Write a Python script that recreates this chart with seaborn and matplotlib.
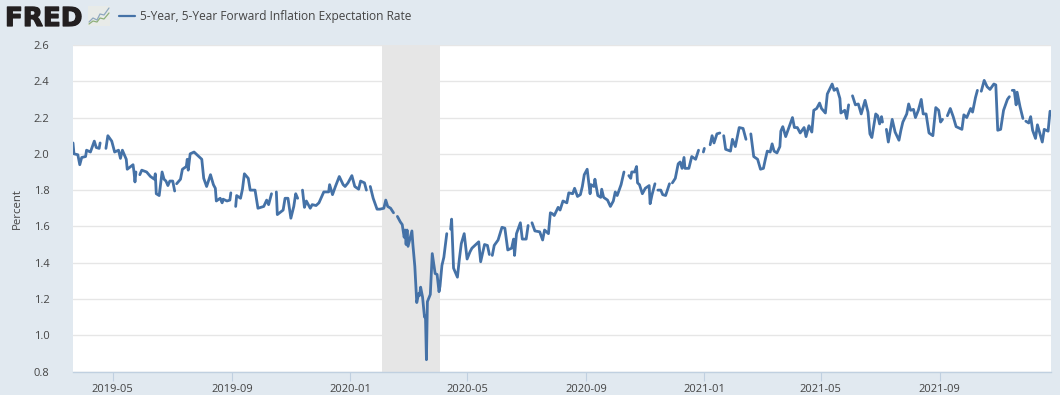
import numpy as np
import pandas as pd
import matplotlib
matplotlib.use("Agg")
import matplotlib.pyplot as plt
import matplotlib.dates as mdates
import matplotlib.patheffects as pe
from matplotlib.lines import Line2D
from matplotlib.patches import Rectangle
import seaborn as sns

nan = float("nan")
START_DATE = "2019-03-21"
SERIES_NAME = "5-Year, 5-Year Forward Inflation Expectation Rate"
RECESSION = ("2020-02-03", "2020-04-03")
Y_TICKS = [0.8, 1.0, 1.2, 1.4, 1.6, 1.8, 2.0, 2.2, 2.4, 2.6]
X_TICKS = ["2019-05-01", "2019-09-01", "2020-01-01", "2020-05-01",
           "2020-09-01", "2021-01-01", "2021-05-01", "2021-09-01"]

days_a = [0,1,5,7,9,13,14,18,22,24,27,28,nan,34,36,40,43,47,49,51,55,56,62,63,64,65,nan,
          69,71,76,80,84,85,86,89,92,94,96,98,100,103,105,nan,107,111,113,117,118,119,121,
          125,128,133,135,138,142,145,147,148,152,154,155,159,162,163,nan,168,169,173,175,
          177,181,183,188,191,197,200,202,205,nan,210,211,217,219,222,225,228,230,232,nan,
          237,239,241,245,247,251,254,259,264,265,268,271,275]
vals_a = [2.06,2.00,1.995,1.94,1.98,1.985,2.02,2.01,2.07,2.035,2.03,2.06,nan,2.03,2.10,2.07,
          2.01,2.02,1.975,2.02,1.97,1.915,1.94,1.90,1.845,1.90,nan,
          1.885,1.91,1.90,1.875,1.86,1.89,1.78,1.77,1.90,1.86,1.85,1.825,1.85,1.85,1.795,nan,
          1.835,1.86,1.915,1.93,1.97,1.91,2.00,2.01,1.995,1.97,1.865,1.82,1.885,1.83,1.81,
          1.74,1.755,1.73,1.75,1.74,1.745,1.785,nan,1.71,1.77,1.755,1.805,1.89,1.865,1.80,
          1.80,1.70,1.71,1.745,1.72,1.78,nan,1.79,1.665,1.69,1.755,1.755,1.645,1.71,1.78,
          1.755,nan,1.80,1.705,1.74,1.70,1.72,1.715,1.73,1.79,1.79,1.83,1.775,1.82,1.875]

days_b = [279,281,284,288,291,295,297,301,303,nan,307,310,314,317,321,323,325,328,331,nan,
          335,338,340,342,343,344,345,346,350,351,353,355,357,358,359,361,363,364,365,366,
          369,371,374,376,378,379,381,383,386,nan,390,391,393,397,399,401,404,407,410,412,
          419,421,425,428,430,nan,433,435,439,443,446,449,453,455,456,458,462,464,468,470,
          nan,474,477,482,485,487,491,493]
vals_b = [1.83,1.82,1.84,1.88,1.82,1.805,1.85,1.84,1.80,nan,1.82,1.755,1.695,1.695,1.70,1.745,
          1.71,1.70,1.675,nan,1.655,1.625,1.61,1.54,1.58,1.50,1.58,1.49,1.575,1.50,1.38,1.18,
          1.23,1.22,1.265,1.21,1.10,1.105,0.865,1.185,1.225,1.45,1.34,1.335,1.24,1.27,1.385,
          1.43,1.56,nan,1.585,1.64,1.37,1.32,1.42,1.505,1.56,1.42,1.46,1.48,1.515,1.405,1.50,
          1.495,1.445,nan,1.44,1.495,1.525,1.595,1.59,1.47,1.48,1.53,1.44,1.56,1.62,1.53,1.53,
          1.605,nan,1.62,1.575,1.57,1.525,1.58,1.56,1.675]

days_c = [495,497,501,503,506,510,512,516,518,521,524,526,528,531,534,535,538,539,542,545,546,
          548,552,555,558,560,562,566,569,nan,574,576,577,580,582,583,585,588,591,595,596,598,
          601,nan,604,607,609,612,616,nan,619,622,625,627,629,631,632,636,639,643,646,nan,651,
          652,nan,658,660,662,665,668,nan,672,674,679,681,684,688,692,695,nan,700,703,707,710,
          713,715,717,720,722,724,727,730,731,733,736,743,745,748,751]
vals_c = [1.67,1.66,1.705,1.69,1.74,1.73,1.785,1.78,1.81,1.765,1.775,1.82,1.885,1.915,1.78,
          1.83,1.82,1.86,1.77,1.76,1.805,1.76,1.745,1.71,1.74,1.79,1.77,1.83,1.90,nan,1.88,1.865,
          1.90,1.90,1.93,1.84,1.83,1.78,1.81,1.825,1.725,1.775,1.835,nan,1.80,1.80,1.775,1.77,
          1.835,nan,1.84,1.865,1.945,1.955,1.92,1.98,1.92,1.92,1.985,1.97,2.02,nan,2.01,2.03,nan,
          2.05,2.10,2.06,2.11,2.115,nan,2.10,2.025,2.015,2.08,2.04,2.145,2.14,2.08,nan,2.11,
          1.985,1.97,1.915,1.92,1.97,2.015,2.01,2.055,2.015,2.005,2.04,2.125,2.15,2.095,2.20,
          2.145,2.145,2.115]

days_d = [755,757,760,763,765,768,771,773,777,779,784,786,789,792,793,797,799,801,nan,805,808,
          811,814,818,821,823,825,829,831,833,835,836,nan,840,842,846,849,853,855,857,861,863,
          865,868,870,873,876,878,881,884,888,891,894,896,898,nan,903,906,909,912,918,920,923,
          927,929,932,934,nan,938,941,944,947,951,953,955,958,961,965,967,nan,970,972,974,975,
          978,981,nan,984,987,989,991,994,996,1001,1003,1007,1009]
vals_d = [2.145,2.095,2.155,2.12,2.24,2.25,2.28,2.25,2.225,2.33,2.385,2.35,2.36,2.305,2.225,
          2.24,2.195,2.27,nan,2.32,2.27,2.275,2.22,2.295,2.23,2.11,2.09,2.22,2.21,2.165,2.205,
          2.175,nan,2.135,2.065,2.19,2.12,2.075,2.13,2.175,2.22,2.275,2.24,2.245,2.20,2.24,2.30,
          2.22,2.22,2.115,2.10,2.255,2.24,2.175,2.19,nan,2.21,2.25,2.205,2.15,2.135,2.215,2.20,
          2.25,2.23,2.31,2.35,nan,2.345,2.405,2.37,2.355,2.385,2.38,2.13,2.135,2.24,2.30,2.315,
          nan,2.35,2.35,2.27,2.34,2.26,2.195,nan,2.18,2.17,2.205,2.13,2.085,2.16,2.065,2.135,
          2.125,2.235]

BG = "#e1e9f0"
GRID = "#e6e6e6"
AXIS = "#c0d0e0"
LINE = "#4572a7"
TEXT = "#444444"

sns.set_theme(style="white")
plt.rcParams["font.family"] = ["Open Sans", "DejaVu Sans"]

days = np.array(days_a + days_b + days_c + days_d, dtype=float)
vals = np.array(vals_a + vals_b + vals_c + vals_d, dtype=float)
df = pd.DataFrame({"day": days, "value": vals})
df["run"] = df["value"].isna().cumsum()
df = df.dropna()
df["date"] = pd.Timestamp(START_DATE) + pd.to_timedelta(df["day"], unit="D")

W, H = 1060, 395
fig = plt.figure(figsize=(W / 100, H / 100), dpi=100, facecolor=BG)
ax = fig.add_axes([73 / W, 1 - 371.5 / H, (1051 - 73) / W, (371.5 - 45) / H])
ax.set_facecolor("white")

sns.lineplot(data=df, x="date", y="value", units="run", estimator=None,
             color=LINE, linewidth=2.0, ax=ax, legend=False, zorder=3,
             solid_joinstyle="round", solid_capstyle="round")

ax.axvspan(pd.Timestamp(RECESSION[0]), pd.Timestamp(RECESSION[1]), color=GRID, lw=0, zorder=2)
ax.set_xlim(pd.Timestamp(START_DATE), pd.Timestamp(START_DATE) + pd.Timedelta(days=1010))
ax.set_ylim(Y_TICKS[0], Y_TICKS[-1])
ax.set_yticks(Y_TICKS)
ax.set_yticklabels([f"{v:.1f}" for v in Y_TICKS])
ax.set_xticks([pd.Timestamp(t) for t in X_TICKS])
ax.xaxis.set_major_formatter(mdates.DateFormatter("%Y-%m"))
ax.grid(axis="y", color=GRID, linewidth=1, zorder=1)
ax.grid(axis="x", visible=False)
ax.set_axisbelow(True)
for s in ("top", "left", "right"):
    ax.spines[s].set_visible(False)
ax.spines["bottom"].set_color(AXIS)
ax.spines["bottom"].set_linewidth(1)
ax.tick_params(axis="x", bottom=True, length=6.5, width=0.8, color=AXIS, labelsize=8,
               labelcolor=TEXT, pad=2.5)
ax.tick_params(axis="y", left=False, labelsize=8, labelcolor=TEXT, pad=11)
ax.set_xlabel("")
ax.set_ylabel("Percent", fontsize=8.2, color=TEXT)
ax.yaxis.set_label_coords(23 / W, 1 - 209 / H, transform=fig.transFigure)

# Header: wordmark, small graph icon and series key
fig.text(5 / W, 1 - 26 / H, "FRED", family="DejaVu Sans", weight="bold", fontsize=18.8,
         color="#231f20", va="baseline", ha="left",
         path_effects=[pe.withStroke(linewidth=0.9, foreground="#231f20")])
fig.add_artist(Rectangle((88 / W, 1 - 26 / H), 22 / W, 20 / H, transform=fig.transFigure,
                         facecolor="#e8ebe8", edgecolor="none"))
icon_x = np.array([89, 93, 97, 100, 104, 109]) / W
fig.add_artist(Line2D(icon_x, 1 - np.array([22, 18, 20, 14, 15, 8]) / H, color="#8fa8bf", lw=0.9))
fig.add_artist(Line2D(icon_x, 1 - np.array([24, 21, 22, 18, 19, 13]) / H, color="#8fb07a", lw=0.9))

fig.add_artist(Line2D(np.array([119, 135]) / W, np.array([1 - 16 / H] * 2), color=LINE, lw=1.6))
fig.text(140 / W, 1 - 16.5 / H, SERIES_NAME, fontsize=8.6, color=TEXT, va="center", ha="left")

fig.savefig("out.png", dpi=100, facecolor=BG)
